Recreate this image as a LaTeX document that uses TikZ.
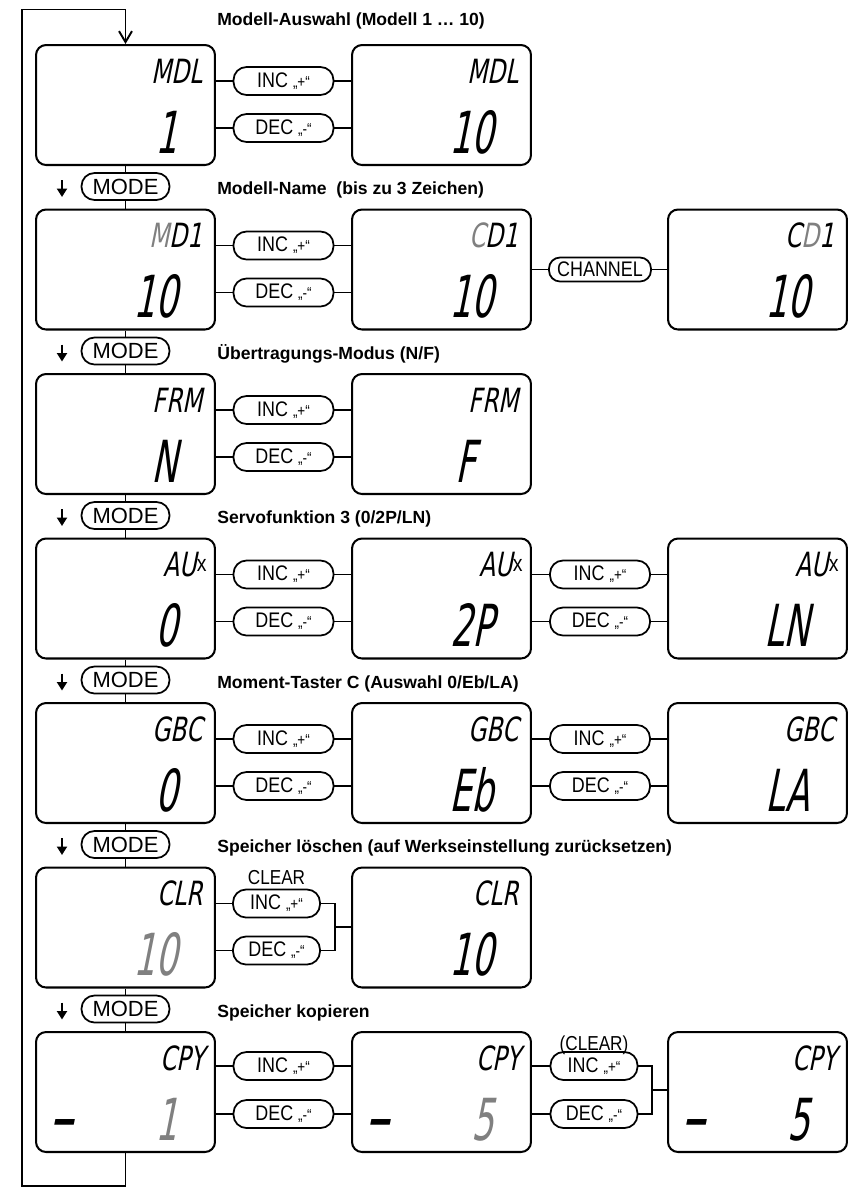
\documentclass[tikz,border=0pt]{standalone}
\usepackage{fontspec}
\usepackage{tikz}
\usetikzlibrary{arrows.meta}
\setmainfont{Liberation Sans}
\newfontfamily\narrowfont{Liberation Sans}[FakeStretch=0.85]
\newfontfamily\lcdfont{DejaVu Sans}[FakeSlant=0.2,FakeStretch=0.7]
\newfontfamily\lcdbigfont{DejaVu Sans}[FakeSlant=0.2,FakeStretch=0.6]
\definecolor{lcdgray}{gray}{0.5}
\newcommand{\inctext}{INC {\fontsize{9}{9}\selectfont„+“}}
\newcommand{\dectext}{DEC {\fontsize{9}{9}\selectfont„-“}}
\newcommand{\auxtext}{AU\raisebox{3pt}{\narrowfont\fontsize{13}{13}\selectfont x}}

\begin{document}
\begin{tikzpicture}[x=0.02cm,y=-0.02cm,
  lcd/.style={draw,line width=1.15pt,rounded corners=0.2cm,minimum width=3.58cm,minimum height=2.4cm},
  lcdtop/.style={anchor=base east,inner sep=0pt,font=\lcdfont\fontsize{19}{19}\selectfont},
  lcdbot/.style={anchor=base east,inner sep=0pt,font=\lcdbigfont\fontsize{33}{33}\selectfont},
  lcddash/.style={anchor=base west,inner sep=0pt,font=\lcdbigfont\fontsize{46}{46}\selectfont},
  key/.style={draw,line width=1pt,rounded corners=0.26cm,minimum width=2cm,minimum height=0.56cm,inner sep=0pt,font=\narrowfont\fontsize{12}{12}\selectfont},
  shortkey/.style={key,minimum width=1.74cm},
  modekey/.style={key,minimum width=1.76cm,minimum height=0.54cm,font=\fontsize{12.5}{12.5}\selectfont},
  title/.style={anchor=base west,inner sep=0pt,font=\bfseries\fontsize{10}{12}\selectfont},
  note/.style={inner sep=0pt,font=\narrowfont\fontsize{11.5}{11.5}\selectfont},
  link/.style={line width=1pt},
  down/.style={line width=1.7pt,-{Triangle[length=0.17cm,width=0.2cm]}}]
\useasboundingbox (0,0) rectangle (848,1187);

% Modell-Auswahl
\node[title] (tMdl) at (217,25) {Modell-Auswahl (Modell 1 … 10)};
\node[lcd] (mdlA) at (125.5,105) {};
\node[lcd] (mdlB) at (441.5,105) {};
\node[lcdtop] (mdlAt) at (203,83) {MDL};
\node[lcdbot] (mdlAb) at (178,153) {1};
\node[lcdtop] (mdlBt) at (519,83) {MDL};
\node[lcdbot] (mdlBb) at (494,153) {10};
\node[key] (incMdl) at (283.5,81) {\inctext};
\node[key] (decMdl) at (283.5,128) {\dectext};
\draw[link] (incMdl.west) -- (incMdl.west -| mdlA.east);
\draw[link] (incMdl.east) -- (incMdl.east -| mdlB.west);
\draw[link] (decMdl.west) -- (decMdl.west -| mdlA.east);
\draw[link] (decMdl.east) -- (decMdl.east -| mdlB.west);
\node[modekey] (modeMdl) at (125.5,186.5) {MODE};
\draw[down] (62,180) -- (62,197);

% Modell-Name
\node[title] (tName) at (217,194.5) {Modell-Name\ \ (bis zu 3 Zeichen)};
\node[lcd] (nameA) at (125.5,269.5) {};
\node[lcd] (nameB) at (441.5,269.5) {};
\node[lcd] (nameC) at (757.5,269.5) {};
\node[lcdtop] (nameAt) at (203,247.5) {\textcolor{lcdgray}{M}D1};
\node[lcdbot] (nameAb) at (178,317.5) {10};
\node[lcdtop] (nameBt) at (519,247.5) {\textcolor{lcdgray}{C}D1};
\node[lcdbot] (nameBb) at (494,317.5) {10};
\node[lcdtop] (nameCt) at (835,247.5) {C\textcolor{lcdgray}{D}1};
\node[lcdbot] (nameCb) at (810,317.5) {10};
\node[key] (incName) at (283.5,245.5) {\inctext};
\node[key] (decName) at (283.5,292.5) {\dectext};
\node[key,minimum width=2.04cm,minimum height=0.48cm,rounded corners=0.22cm] (chName) at (600,269.5) {CHANNEL};
\draw[link] (incName.west) -- (incName.west -| nameA.east);
\draw[link] (incName.east) -- (incName.east -| nameB.west);
\draw[link] (decName.west) -- (decName.west -| nameA.east);
\draw[link] (decName.east) -- (decName.east -| nameB.west);
\draw[link] (chName.west) -- (nameB.east);
\draw[link] (chName.east) -- (nameC.west);
\draw[link] (mdlA.south) -- (modeMdl.north);
\draw[link] (modeMdl.south) -- (nameA.north);
\node[modekey] (modeName) at (125.5,351) {MODE};
\draw[down] (62,344.5) -- (62,361.5);

% Uebertragungs-Modus
\node[title] (tFrm) at (217,359) {Übertragungs-Modus (N/F)};
\node[lcd] (frmA) at (125.5,434) {};
\node[lcd] (frmB) at (441.5,434) {};
\node[lcdtop] (frmAt) at (203,412) {FRM};
\node[lcdbot] (frmAb) at (178,482) {N};
\node[lcdtop] (frmBt) at (519,412) {FRM};
\node[lcdbot] (frmBb) at (476,482) {F};
\node[key] (incFrm) at (283.5,410) {\inctext};
\node[key] (decFrm) at (283.5,457) {\dectext};
\draw[link] (incFrm.west) -- (incFrm.west -| frmA.east);
\draw[link] (incFrm.east) -- (incFrm.east -| frmB.west);
\draw[link] (decFrm.west) -- (decFrm.west -| frmA.east);
\draw[link] (decFrm.east) -- (decFrm.east -| frmB.west);
\draw[link] (nameA.south) -- (modeName.north);
\draw[link] (modeName.south) -- (frmA.north);
\node[modekey] (modeFrm) at (125.5,515.5) {MODE};
\draw[down] (62,509) -- (62,526);

% Servofunktion 3
\node[title] (tAux) at (217,523.5) {Servofunktion 3 (0/2P/LN)};
\node[lcd] (auxA) at (125.5,598.5) {};
\node[lcd] (auxB) at (441.5,598.5) {};
\node[lcd] (auxC) at (757.5,598.5) {};
\node[lcdtop] (auxAt) at (207,576.5) {\auxtext};
\node[lcdbot] (auxAb) at (178,646.5) {0};
\node[lcdtop] (auxBt) at (523,576.5) {\auxtext};
\node[lcdbot] (auxBb) at (494,646.5) {2P};
\node[lcdtop] (auxCt) at (839,576.5) {\auxtext};
\node[lcdbot] (auxCb) at (810,646.5) {LN};
\node[key] (incAuxA) at (283.5,574.5) {\inctext};
\node[key] (decAuxA) at (283.5,621.5) {\dectext};
\node[key] (incAuxB) at (600,574.5) {\inctext};
\node[key] (decAuxB) at (600,621.5) {\dectext};
\draw[link] (incAuxA.west) -- (incAuxA.west -| auxA.east);
\draw[link] (incAuxA.east) -- (incAuxA.east -| auxB.west);
\draw[link] (decAuxA.west) -- (decAuxA.west -| auxA.east);
\draw[link] (decAuxA.east) -- (decAuxA.east -| auxB.west);
\draw[link] (incAuxB.west) -- (incAuxB.west -| auxB.east);
\draw[link] (incAuxB.east) -- (incAuxB.east -| auxC.west);
\draw[link] (decAuxB.west) -- (decAuxB.west -| auxB.east);
\draw[link] (decAuxB.east) -- (decAuxB.east -| auxC.west);
\draw[link] (frmA.south) -- (modeFrm.north);
\draw[link] (modeFrm.south) -- (auxA.north);
\node[modekey] (modeAux) at (125.5,680) {MODE};
\draw[down] (62,673.5) -- (62,690.5);

% Moment-Taster C
\node[title] (tGbc) at (217,688) {Moment-Taster C (Auswahl 0/Eb/LA)};
\node[lcd] (gbcA) at (125.5,763) {};
\node[lcd] (gbcB) at (441.5,763) {};
\node[lcd] (gbcC) at (757.5,763) {};
\node[lcdtop] (gbcAt) at (203,741) {GBC};
\node[lcdbot] (gbcAb) at (178,811) {0};
\node[lcdtop] (gbcBt) at (519,741) {GBC};
\node[lcdbot] (gbcBb) at (494,811) {Eb};
\node[lcdtop] (gbcCt) at (835,741) {GBC};
\node[lcdbot] (gbcCb) at (810,811) {LA};
\node[key] (incGbcA) at (283.5,739) {\inctext};
\node[key] (decGbcA) at (283.5,786) {\dectext};
\node[key] (incGbcB) at (600,739) {\inctext};
\node[key] (decGbcB) at (600,786) {\dectext};
\draw[link] (incGbcA.west) -- (incGbcA.west -| gbcA.east);
\draw[link] (incGbcA.east) -- (incGbcA.east -| gbcB.west);
\draw[link] (decGbcA.west) -- (decGbcA.west -| gbcA.east);
\draw[link] (decGbcA.east) -- (decGbcA.east -| gbcB.west);
\draw[link] (incGbcB.west) -- (incGbcB.west -| gbcB.east);
\draw[link] (incGbcB.east) -- (incGbcB.east -| gbcC.west);
\draw[link] (decGbcB.west) -- (decGbcB.west -| gbcB.east);
\draw[link] (decGbcB.east) -- (decGbcB.east -| gbcC.west);
\draw[link] (auxA.south) -- (modeAux.north);
\draw[link] (modeAux.south) -- (gbcA.north);
\node[modekey] (modeGbc) at (125.5,844.5) {MODE};
\draw[down] (62,838) -- (62,855);

% Speicher loeschen
\node[title] (tClr) at (217,852.5) {Speicher löschen (auf Werkseinstellung zurücksetzen)};
\node[lcd] (clrA) at (125.5,927.5) {};
\node[lcd] (clrB) at (441.5,927.5) {};
\node[lcdtop] (clrAt) at (203,905.5) {CLR};
\node[lcdbot,text=lcdgray] (clrAb) at (178,975.5) {10};
\node[lcdtop] (clrBt) at (519,905.5) {CLR};
\node[lcdbot] (clrBb) at (494,975.5) {10};
\node[note] (clrNote) at (276.5,878) {CLEAR};
\node[shortkey] (incClr) at (276.5,903.5) {\inctext};
\node[shortkey] (decClr) at (276.5,950.5) {\dectext};
\coordinate (clrJoin) at (335,927);
\draw[link] (incClr.west) -- (incClr.west -| clrA.east);
\draw[link] (decClr.west) -- (decClr.west -| clrA.east);
\draw[link] (incClr.east) -| (clrJoin) |- (decClr.east);
\draw[link] (clrJoin) -- (clrJoin -| clrB.west);
\draw[link] (gbcA.south) -- (modeGbc.north);
\draw[link] (modeGbc.south) -- (clrA.north);
\node[modekey] (modeClr) at (125.5,1009) {MODE};
\draw[down] (62,1002.5) -- (62,1019.5);

% Speicher kopieren
\node[title] (tCpy) at (217,1017) {Speicher kopieren};
\node[lcd] (cpyA) at (125.5,1092) {};
\node[lcd] (cpyB) at (441.5,1092) {};
\node[lcd] (cpyC) at (757.5,1092) {};
\node[lcdtop] (cpyAt) at (205,1070) {CPY};
\node[lcdbot,text=lcdgray] (cpyAb) at (178,1140) {1};
\node[lcddash] (cpyAd) at (48,1144) {–};
\node[lcdtop] (cpyBt) at (521,1070) {CPY};
\node[lcdbot,text=lcdgray] (cpyBb) at (494,1140) {5};
\node[lcddash] (cpyBd) at (364,1144) {–};
\node[lcdtop] (cpyCt) at (837,1070) {CPY};
\node[lcdbot] (cpyCb) at (810,1140) {5};
\node[lcddash] (cpyCd) at (680,1144) {–};
\node[key] (incCpyA) at (283.5,1066) {\inctext};
\node[key] (decCpyA) at (283.5,1114) {\dectext};
\node[note] (cpyNote) at (594,1045) {(CLEAR)};
\node[shortkey] (incCpyB) at (594,1066) {\inctext};
\node[shortkey] (decCpyB) at (594,1114) {\dectext};
\coordinate (cpyJoin) at (652,1090);
\draw[link] (incCpyA.west) -- (incCpyA.west -| cpyA.east);
\draw[link] (incCpyA.east) -- (incCpyA.east -| cpyB.west);
\draw[link] (decCpyA.west) -- (decCpyA.west -| cpyA.east);
\draw[link] (decCpyA.east) -- (decCpyA.east -| cpyB.west);
\draw[link] (incCpyB.west) -- (incCpyB.west -| cpyB.east);
\draw[link] (decCpyB.west) -- (decCpyB.west -| cpyB.east);
\draw[link] (incCpyB.east) -| (cpyJoin) |- (decCpyB.east);
\draw[link] (cpyJoin) -- (cpyJoin -| cpyC.west);
\draw[link] (clrA.south) -- (modeClr.north);
\draw[link] (modeClr.south) -- (cpyA.north);

% back to the start
\draw[line width=1.1pt,-{Straight Barb[length=0.22cm,width=0.26cm]}] (cpyA.south) -- ++(0,33) -| (22,9.5) -| (mdlA.north);

\end{tikzpicture}
\end{document}
